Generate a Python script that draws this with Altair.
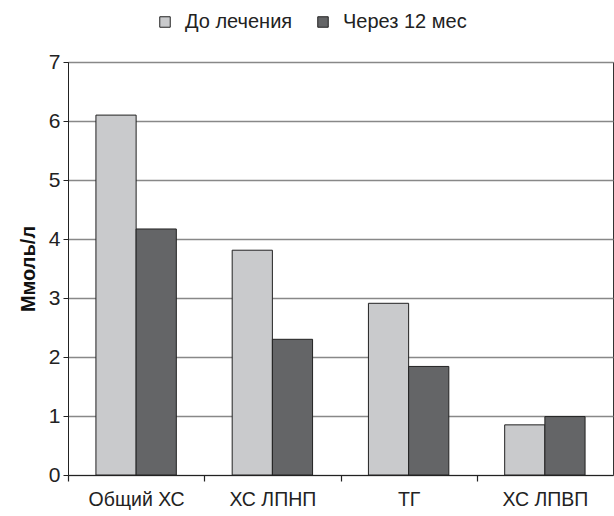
import altair as alt
import pandas as pd

categories = ["Общий ХС", "ХС ЛПНП", "ТГ", "ХС ЛПВП"]
series = ["До лечения", "Через 12 мес"]
before = [6.10, 3.81, 2.91, 0.85]
after = [4.17, 2.30, 1.84, 0.99]

rows = []
for c, b, a in zip(categories, before, after):
    rows.append({"cat": c, "series": series[0], "value": b})
    rows.append({"cat": c, "series": series[1], "value": a})
df = pd.DataFrame(rows)

font = "Liberation Sans"

chart = alt.Chart(df).mark_bar(stroke="#222222", strokeWidth=1).encode(
    x=alt.X("cat:N", sort=categories, title=None,
            scale=alt.Scale(paddingInner=0.41, paddingOuter=0.205),
            axis=alt.Axis(labelAngle=0, labelFontSize=19.5,
                          labelFont=font, labelColor="#222", labelPadding=9,
                          tickSize=6, tickColor="#222", tickWidth=1.2,
                          domainColor="#222",
                          tickOffset=-68, labelOffset=68, grid=False)),
    xOffset=alt.XOffset("series:N", sort=series),
    y=alt.Y("value:Q", title="Ммоль/л",
            scale=alt.Scale(domain=[0, 7]),
            axis=alt.Axis(values=[0, 1, 2, 3, 4, 5, 6, 7], labelFontSize=21,
                          labelFont=font, labelColor="#222", tickSize=5,
                          tickColor="#222", domainColor="#222", gridColor="#888888",
                          gridWidth=1.3, titleFont=font, titleFontSize=20,
                          titleFontWeight="bold", titleColor="#111", titlePadding=10,
                          labelPadding=3)),
    color=alt.Color("series:N", sort=series,
                    scale=alt.Scale(domain=series, range=["#c9cacc", "#646567"]),
                    legend=alt.Legend(title=None, orient="none", legendX=87, legendY=-50,
                                      direction="horizontal", symbolType="square",
                                      symbolSize=110, symbolStrokeColor="#222",
                                      symbolStrokeWidth=1, labelFontSize=20,
                                      labelFont=font, labelColor="#222",
                                      columnPadding=20, labelOffset=10)),
).properties(
    width=545, height=413,
    autosize=alt.AutoSizeParams(type="none"),
    padding={"left": 68, "top": 62, "right": 1, "bottom": 41},
).configure_view(stroke="#333333", strokeWidth=1)

chart.save("out.html", embed_options={"renderer": "svg", "actions": False})
